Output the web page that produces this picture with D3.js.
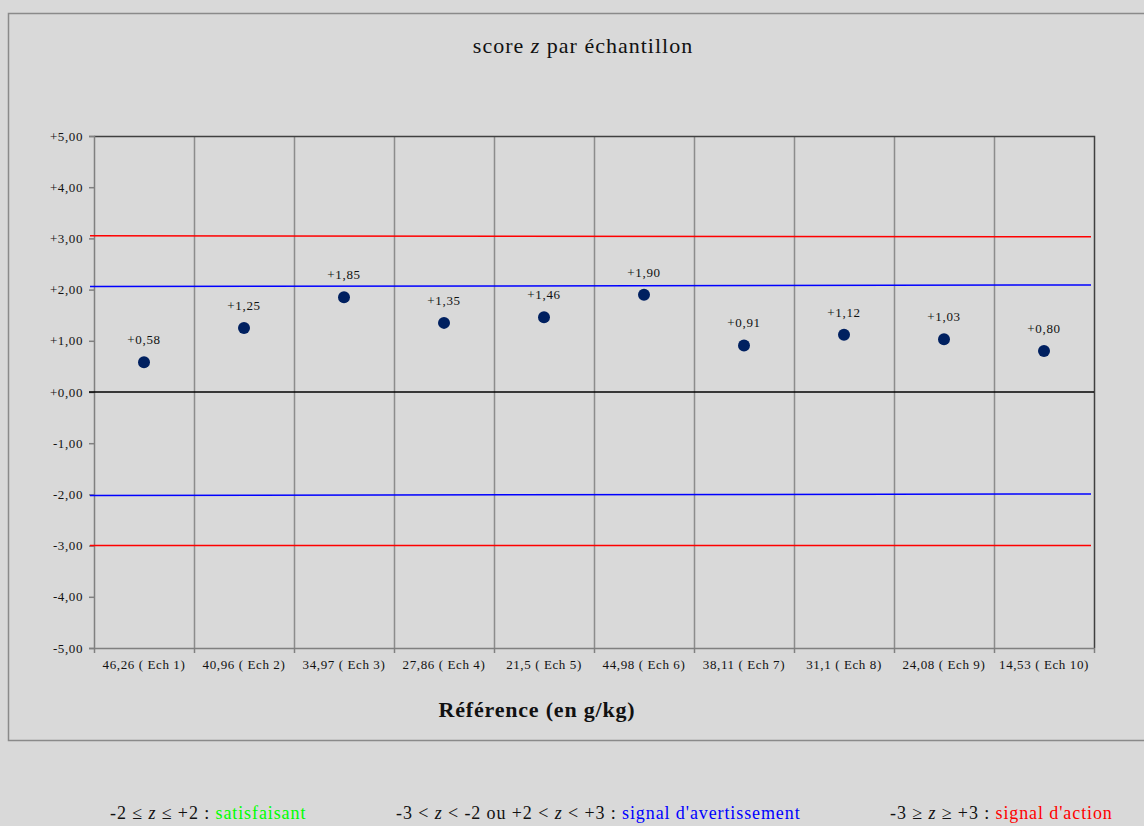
<!DOCTYPE html>
<html>
<head>
<meta charset="utf-8">
<script src="https://cdn.jsdelivr.net/npm/d3@7"></script>
<style>
  body { margin: 0; background: #d9d9d9; }
  svg { display: block; font-family: "Liberation Serif", "Times New Roman", serif; }
</style>
</head>
<body>
<div id="chart"></div>
<script>
const samples = ['46,26 ( Ech 1)', '40,96 ( Ech 2)', '34,97 ( Ech 3)', '27,86 ( Ech 4)', '21,5 ( Ech 5)',
    '44,98 ( Ech 6)', '38,11 ( Ech 7)', '31,1 ( Ech 8)', '24,08 ( Ech 9)', '14,53 ( Ech 10)'];
const scores = [0.58, 1.25, 1.85, 1.35, 1.46, 1.90, 0.91, 1.12, 1.03, 0.80];
const yTicks = [5, 4, 3, 2, 1, 0, -1, -2, -3, -4, -5];

// limit lines, value at start and end of the plot
const actionHigh = [3.05, 3.03];
const warnHigh = [2.06, 2.09];
const warnLow = [-2.02, -1.99];
const actionLow = [-3.0, -3.0];

const width = 1144;
const height = 826;
const margin = { top: 136, left: 94, right: 50, bottom: 178 };
const plotW = width - margin.left - margin.right;   // 1000
const plotH = height - margin.top - margin.bottom;  // 512

const fmt = v => (v < 0 ? '-' : '+') + Math.abs(v).toFixed(2).replace('.', ',');

const svg = d3.select('#chart').append('svg')
    .attr('width', width)
    .attr('height', height);

// outer chart frame
svg.append('rect')
    .attr('x', 8.5).attr('y', 13.5)
    .attr('width', width).attr('height', 727)
    .attr('fill', '#d9d9d9')
    .attr('stroke', '#8a8a8a')
    .attr('stroke-width', 1.5);

var x = d3.scaleBand().domain(samples).range([0, plotW]);
var y = d3.scaleLinear().domain([-5, 5]).range([plotH, 0]);
var xl = d3.scaleLinear().domain([0, 1]).range([-4, plotW - 3]);

const g = svg.append('g').attr('transform', `translate(${margin.left},${margin.top})`);

// vertical grid at category boundaries
g.append('g')
    .selectAll('line')
    .data(samples.slice(1))
    .join('line')
    .attr('x1', d => x(d) + 0.5).attr('x2', d => x(d) + 0.5)
    .attr('y1', 0).attr('y2', plotH)
    .attr('stroke', '#8c8c8c')
    .attr('stroke-width', 1.5);

// top and right border
g.append('path')
    .attr('d', `M0,0.5H${plotW + 0.5}V${plotH}`)
    .attr('fill', 'none')
    .attr('stroke', '#404040')
    .attr('stroke-width', 1.5);

// y axis
const yAxis = g.append('g')
    .call(d3.axisLeft(y).tickValues(yTicks).tickFormat(fmt).tickSize(5).tickPadding(6));
yAxis.select('.domain').attr('stroke', '#808080').attr('stroke-width', 1.5);
yAxis.selectAll('.tick line').attr('stroke', '#808080').attr('stroke-width', 1.5);
yAxis.selectAll('text')
    .attr('font-family', 'Liberation Serif')
    .attr('font-size', 13)
    .attr('letter-spacing', 0.6)
    .attr('fill', '#111');

// x axis
const xAxis = g.append('g')
    .attr('transform', `translate(0,${plotH})`)
    .call(d3.axisBottom(x).tickSize(0).tickPadding(12));
xAxis.select('.domain').attr('stroke', '#808080').attr('stroke-width', 1.5);
xAxis.selectAll('text')
    .attr('font-family', 'Liberation Serif')
    .attr('font-size', 13)
    .attr('letter-spacing', 0.6)
    .attr('fill', '#111');
g.append('g')
    .selectAll('line')
    .data(samples.concat(['end']))
    .join('line')
    .attr('x1', (d, i) => i * x.bandwidth() + 0.5).attr('x2', (d, i) => i * x.bandwidth() + 0.5)
    .attr('y1', plotH).attr('y2', plotH + 5)
    .attr('stroke', '#808080')
    .attr('stroke-width', 1.5);

// zero line
g.append('line')
    .attr('x1', -5).attr('x2', plotW)
    .attr('y1', y(0)).attr('y2', y(0))
    .attr('stroke', '#000')
    .attr('stroke-width', 1.5);

// limit lines
const limLine = d3.line().x((d, i) => xl(i)).y(d => y(d));
[[actionHigh, '#ff0000'], [warnHigh, '#0000ff'], [warnLow, '#0000ff'], [actionLow, '#ff0000']]
    .forEach(function (l) {
        g.append('path')
            .datum(l[0])
            .attr('d', limLine)
            .attr('fill', 'none')
            .attr('stroke', l[1])
            .attr('stroke-width', 1.5);
    });

// points
g.append('g')
    .selectAll('circle')
    .data(scores)
    .join('circle')
    .attr('cx', (d, i) => x(samples[i]) + x.bandwidth() / 2)
    .attr('cy', d => y(d))
    .attr('r', 6)
    .attr('fill', '#002060');

g.append('g')
    .selectAll('text')
    .data(scores)
    .join('text')
    .attr('x', (d, i) => x(samples[i]) + x.bandwidth() / 2)
    .attr('y', d => y(d) - 18)
    .attr('text-anchor', 'middle')
    .attr('font-size', 13)
    .attr('letter-spacing', 0.7)
    .attr('fill', '#111')
    .text(fmt);

// title
const title = svg.append('text')
    .attr('x', 583).attr('y', 53)
    .attr('text-anchor', 'middle')
    .attr('font-size', 22)
    .attr('letter-spacing', 1)
    .attr('fill', '#111');
title.append('tspan').text('score ');
title.append('tspan').attr('font-style', 'italic').text('z');
title.append('tspan').text(' par échantillon');

// x axis title
svg.append('text')
    .attr('x', 537).attr('y', 717)
    .attr('text-anchor', 'middle')
    .attr('font-size', 22)
    .attr('font-weight', 'bold')
    .attr('letter-spacing', 0.8)
    .attr('fill', '#111')
    .text('Référence (en g/kg)');

// legend
const legend = [
    { x: 110, parts: [['-2 ≤ ', 0], ['z', 1], [' ≤ +2 : ', 0]], label: 'satisfaisant', color: '#00ff00' },
    { x: 396, parts: [['-3 < ', 0], ['z', 1], [' < -2 ou +2 < ', 0], ['z', 1], [' < +3 : ', 0]], label: "signal d'avertissement", color: '#0000ff' },
    { x: 890, parts: [['-3 ≥ ', 0], ['z', 1], [' ≥ +3 : ', 0]], label: "signal d'action", color: '#ff0000' }
];
legend.forEach(function (item) {
    const t = svg.append('text')
        .attr('x', item.x).attr('y', 819)
        .attr('font-size', 18)
        .attr('letter-spacing', 0.9)
        .attr('fill', '#111');
    item.parts.forEach(function (p) {
        t.append('tspan').attr('font-style', p[1] ? 'italic' : null).text(p[0]);
    });
    t.append('tspan').attr('fill', item.color).text(item.label);
});
</script>
</body>
</html>
